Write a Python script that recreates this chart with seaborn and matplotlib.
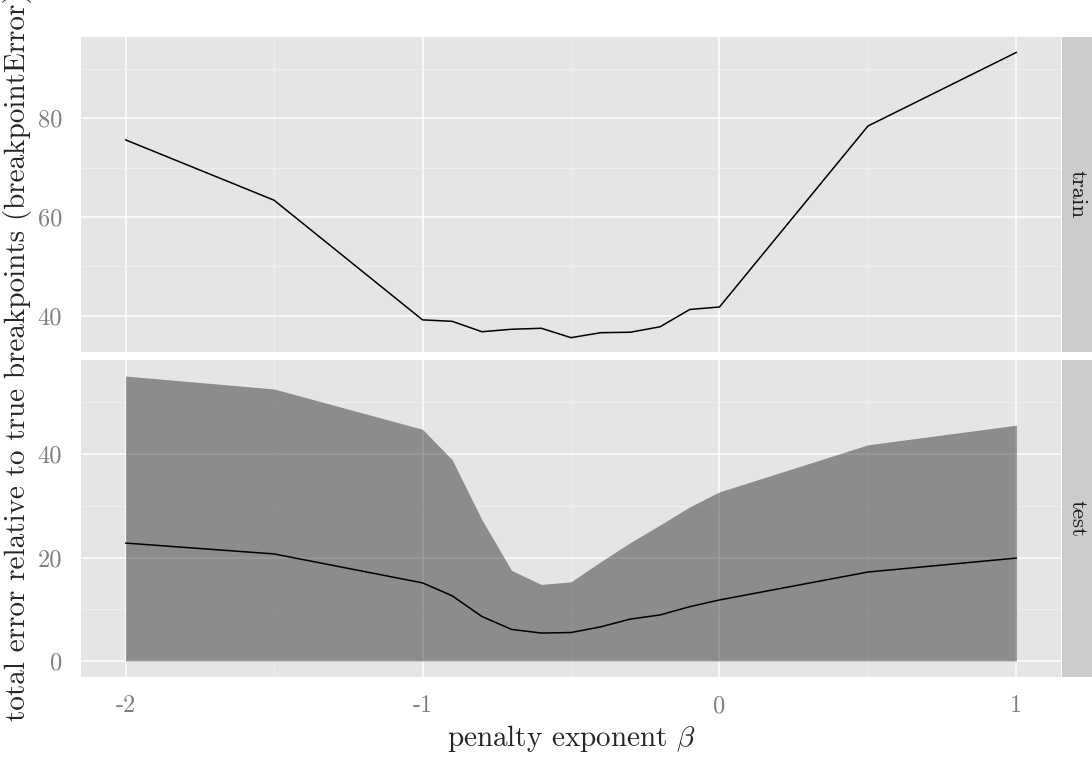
import matplotlib
matplotlib.use("Agg")
import matplotlib.pyplot as plt
import seaborn as sns
import pandas as pd
import numpy as np

# ---- data ----
beta = [-2, -1.5, -1, -0.9, -0.8, -0.7, -0.6, -0.5, -0.4, -0.3, -0.2, -0.1, 0, 0.5, 1]
train_error = [75.6, 63.4, 39.2, 38.9, 36.8, 37.3, 37.5, 35.6, 36.6, 36.7, 37.8, 41.3, 41.8, 78.4, 93.3]
test_mean = [22.8, 20.7, 15.1, 12.6, 8.6, 6.1, 5.4, 5.5, 6.6, 8.1, 8.9, 10.5, 11.8, 17.2, 19.9]
test_upper = [55.1, 52.6, 44.8, 38.9, 27.3, 17.5, 14.8, 15.3, 19.2, 22.9, 26.3, 29.8, 32.7, 41.8, 45.6]
test_lower = [0] * 15
x_ticks = [-2, -1, 0, 1]
x_tick_labels = ["-2", "-1", "0", "1"]
train_ticks = [40, 60, 80]
test_ticks = [0, 20, 40]
panels = ["train", "test"]

df_train = pd.DataFrame({"beta": beta, "error": train_error})
df_test = pd.DataFrame({"beta": beta, "error": test_mean, "lo": test_lower, "hi": test_upper})

sns.set_style("white")
plt.rcParams["font.family"] = ["cmr10", "DejaVu Serif"]
plt.rcParams["mathtext.fontset"] = "cm"
plt.rcParams["axes.formatter.use_mathtext"] = True
plt.rcParams["axes.unicode_minus"] = False

W, H = 1092, 757
fig = plt.figure(figsize=(W / 100, H / 100), dpi=100)

def fx(px):
    return px / W

def fy(py):
    return 1 - py / H

left, right = 81, 1061
ax_top = fig.add_axes([fx(left), fy(352), fx(right - left), (352 - 37) / H])
ax_bot = fig.add_axes([fx(left), fy(677), fx(right - left), (677 - 360) / H])

BG = "#E5E5E5"
TICKCOL = "#7F7F7F"
xlim = (-2.15, 1.15)

def style(ax, yticks, ylim, yminor):
    ax.set_facecolor(BG)
    for s in ax.spines.values():
        s.set_visible(False)
    ax.set_xlim(*xlim)
    ax.set_ylim(*ylim)
    ax.set_xticks(x_ticks)
    ax.set_xticks([-1.5, -0.5, 0.5], minor=True)
    ax.set_yticks(yticks)
    ax.set_yticklabels([str(t) for t in yticks])
    ax.set_yticks(yminor, minor=True)
    ax.grid(which="major", color="white", lw=1.1)
    ax.grid(which="minor", color="#F2F2F2", lw=0.5)
    ax.set_axisbelow(True)
    ax.tick_params(axis="y", which="major", length=8, width=1.0, color=TICKCOL,
                   labelcolor=TICKCOL, labelsize=17.5, pad=5.5)
    ax.tick_params(axis="x", which="major", length=8, width=1.0, color=TICKCOL,
                   labelcolor=TICKCOL, labelsize=17.5, pad=5)
    ax.tick_params(which="minor", length=0)
    ax.set_xlabel("")
    ax.set_ylabel("")

# top panel
sns.lineplot(data=df_train, x="beta", y="error", ax=ax_top, color="black", lw=1.1)
style(ax_top, train_ticks, (32.7, 96.4), [50, 70, 90])
ax_top.tick_params(axis="x", labelbottom=False, length=0)

# bottom panel
ax_bot.fill_between(df_test["beta"], df_test["lo"], df_test["hi"], color="black", alpha=0.39, lw=0)
sns.lineplot(data=df_test, x="beta", y="error", ax=ax_bot, color="black", lw=1.1)
style(ax_bot, test_ticks, (-3.1, 58.2), [10, 30, 50])
ax_bot.set_xticklabels(x_tick_labels)

# strips
for (t, b), name in zip([(37, 352), (360, 677)], panels):
    sax = fig.add_axes([fx(1062), fy(b), fx(1092 - 1062), (b - t) / H])
    sax.set_facecolor("#CCCCCC")
    for s in sax.spines.values():
        s.set_visible(False)
    sax.set_xticks([])
    sax.set_yticks([])
    sax.text(0.5, 0.5, name, rotation=-90, ha="center", va="center",
             fontsize=16.5, color="#1A1A1A", transform=sax.transAxes)

fig.text(fx(572), fy(738), r"penalty exponent $\beta$", ha="center", va="center", fontsize=21)
fig.text(fx(18), fy(357), "total error relative to true breakpoints (breakpointError)",
         rotation=90, ha="center", va="center", fontsize=21)

fig.savefig("out.png", dpi=100, facecolor="white")
